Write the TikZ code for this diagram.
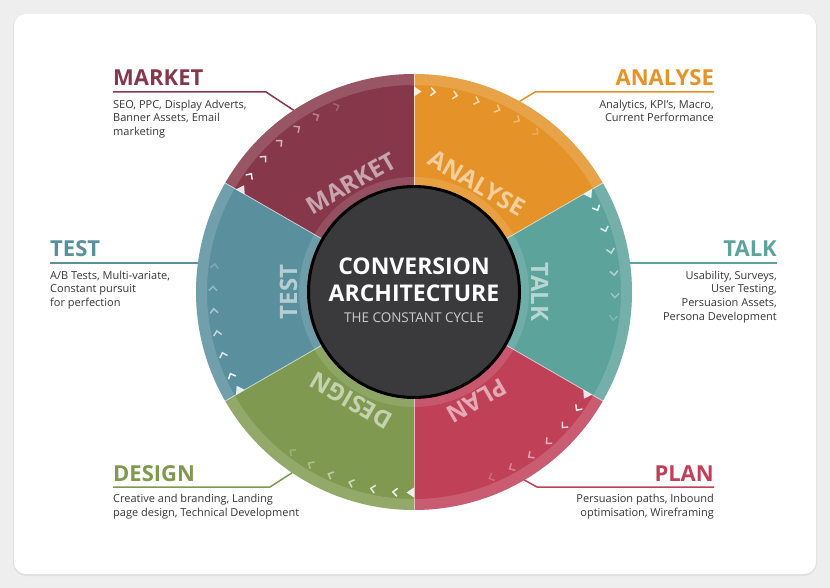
\documentclass[tikz,border=0pt]{standalone}
\usepackage{fontspec}
\setmainfont{Open Sans}
\usepackage{tikz}
\usetikzlibrary{calc}
\definecolor{pagecol}{RGB}{238,238,238}
\definecolor{marketcol}{RGB}{134,56,74}
\definecolor{analysecol}{RGB}{229,147,40}
\definecolor{talkcol}{RGB}{92,163,155}
\definecolor{plancol}{RGB}{192,64,88}
\definecolor{designcol}{RGB}{127,154,80}
\definecolor{testcol}{RGB}{90,143,158}
\definecolor{corecol}{RGB}{58,58,60}
\definecolor{desccol}{RGB}{55,55,55}
\tikzstyle{heading}=[inner sep=0pt,font=\fontsize{22}{22}\selectfont\bfseries]
\tikzstyle{desc}=[inner sep=0pt,font=\fontsize{11}{13.8}\selectfont,text=desccol]
\tikzstyle{leader}=[draw,line width=1.5pt]
\tikzstyle{divider}=[draw,white,opacity=.6,line width=.8pt]
\tikzstyle{chevron}=[draw,white,line width=1.5pt]
\tikzstyle{marker}=[fill=white,opacity=.85]
\tikzstyle{sectorlabel}=[inner sep=0pt,anchor=base,font=\fontsize{24}{24}\selectfont\bfseries]
\tikzstyle{title}=[inner sep=0pt,text=white,font=\fontsize{23}{23}\selectfont\bfseries]
\tikzstyle{subtitle}=[inner sep=0pt,text=black!20,font=\fontsize{13.5}{13.5}\selectfont]

\begin{document}
\begin{tikzpicture}[x=1pt,y=1pt]
    \useasboundingbox (0,0) rectangle (830,-588);
    % Card behind the wheel
    \fill[pagecol] (0,0) rectangle (830,-588);
    \fill[black!12,rounded corners=13pt] (13,-14) rectangle (817,-576);
    \fill[white,rounded corners=12pt] (14,-14) rectangle (816,-574);
    \coordinate (c) at (414,-292);

    % Headings and their texts
    \node[heading,text=marketcol,anchor=base west] (market) at (113,-86) {MARKET};
    \node[desc,anchor=north west,align=left] (marketdesc) at (113,-99.6)
        {SEO, PPC, Display Adverts,\\Banner Assets, Email\\marketing};
    \node[heading,text=analysecol,anchor=base east] (analyse) at (714,-86) {ANALYSE};
    \node[desc,anchor=north east,align=right] (analysedesc) at (714,-99.6)
        {Analytics, KPI’s, Macro,\\Current Performance};
    \node[heading,text=talkcol,anchor=base east] (talk) at (777,-257) {TALK};
    \node[desc,anchor=north east,align=right] (talkdesc) at (777,-270.6)
        {Usability, Surveys,\\User Testing,\\Persuasion Assets,\\Persona Development};
    \node[heading,text=testcol,anchor=base west] (test) at (50,-257) {TEST};
    \node[desc,anchor=north west,align=left] (testdesc) at (50,-270.6)
        {A/B Tests, Multi-variate,\\Constant pursuit\\for perfection};
    \node[heading,text=designcol,anchor=base west] (design) at (113,-481) {DESIGN};
    \node[desc,anchor=north west,align=left] (designdesc) at (113,-494)
        {Creative and branding, Landing\\page design, Technical Development};
    \node[heading,text=plancol,anchor=base east] (plan) at (714,-481) {PLAN};
    \node[desc,anchor=north east,align=right] (plandesc) at (714,-494)
        {Persuasion paths, Inbound\\optimisation, Wireframing};

    % Leader lines from the headings to the wheel
    \coordinate (market-k) at (266,-92);
    \coordinate (market-e) at ($(c)+(123.5:218)$);
    \coordinate (analyse-k) at (535,-92);
    \coordinate (analyse-e) at ($(c)+(61:218)$);
    \coordinate (talk-e) at ($(c)+(7.6:218)$);
    \coordinate (test-e) at ($(c)+(172.4:218)$);
    \coordinate (design-k) at (270,-487);
    \coordinate (design-e) at ($(c)+(236:218)$);
    \coordinate (plan-k) at (537,-487);
    \coordinate (plan-e) at ($(c)+(-59.6:218)$);
    \path[leader,marketcol] (market.west |- market-k) -- (market-k) -- (market-e);
    \path[leader,analysecol] (analyse.east |- analyse-k) -- (analyse-k) -- (analyse-e);
    \path[leader,talkcol] (talk.east |- talk-e) -- (talk-e);
    \path[leader,testcol] (test.west |- test-e) -- (test-e);
    \path[leader,designcol] (design.west |- design-k) -- (design-k) -- (design-e);
    \path[leader,plancol] (plan.east |- plan-k) -- (plan-k) -- (plan-e);

    % The six sectors of the wheel
    \foreach \s/\col in {150/marketcol,90/analysecol,30/talkcol,-30/plancol,-90/designcol,-150/testcol}
        \fill[\col] (c) -- ($(c)+(\s:218)$) arc[start angle=\s,end angle=\s-60,radius=218] -- cycle;
    \fill[white,opacity=.15,even odd rule] (c) circle[radius=218] circle[radius=207];
    \fill[white,opacity=.12] (c) circle[radius=115];
    \foreach \s in {150,90,30,-30,-90,-150}
        \path[divider] ($(c)+(\s:106)$) -- ($(c)+(\s:218)$);

    % Arrow marks running clockwise round the rim
    \foreach \s in {150,90,30,-30,-90,-150}{
        \fill[marker,shift={(c)},rotate=\s] (195.5,0) -- (205.5,0) -- (200.5,-7.5) -- cycle;
        \foreach \k/\o in {0/.9,1/.78,2/.64,3/.5,4/.36,5/.22}
            \path[chevron,opacity=\o,shift={(c)},rotate=\s-5.5-6.4*\k]
                (197,2.5) -- (201,-1.8) -- (205,2.5);
    }

    % Sector names, tops turned outwards
    \foreach \a/\col/\name in {120/marketcol/MARKET,60/analysecol/ANALYSE,0/talkcol/TALK,
            -60/plancol/PLAN,-120/designcol/DESIGN,180/testcol/TEST}
        \node[sectorlabel,text=\col!45!white,rotate=\a-90] (\name-label) at ($(c)+(\a:117)$) {\name};

    % Centre of the wheel
    \node[circle,fill=corecol,draw=black,line width=3pt,minimum size=211pt,inner sep=0pt] (core) at (c) {};
    \node[title,anchor=base] (conv) at (414,-274) {CONVERSION};
    \node[title,anchor=base] (arch) at (414,-301) {ARCHITECTURE};
    \node[subtitle,anchor=base] (cycle) at (414,-322) {THE CONSTANT CYCLE};
\end{tikzpicture}
\end{document}
